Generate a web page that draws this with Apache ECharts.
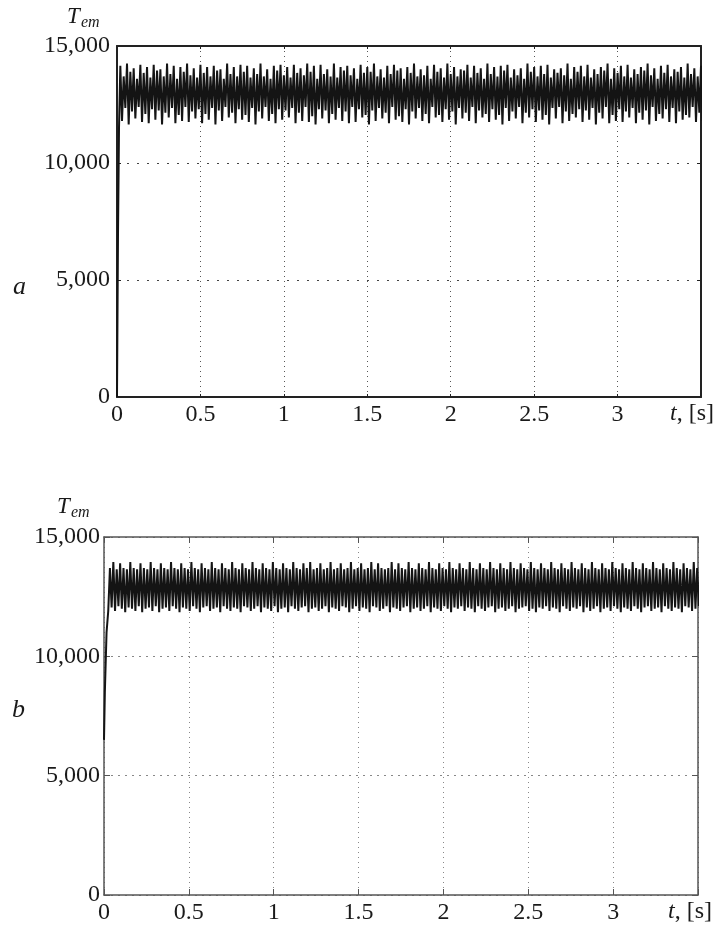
<!DOCTYPE html>
<html>
<head>
<meta charset="utf-8">
<title>Tem</title>
<script src="https://cdn.jsdelivr.net/npm/echarts@6/dist/echarts.min.js"></script>
<style>
html, body { margin: 0; padding: 0; background: #fff; }
#chart { width: 722px; height: 926px; }
</style>
</head>
<body>
<div id="chart"></div>
<script>
// axis ranges / ticks
var tMax = 3.5, tStep = 0.5;
var yMax = 15000, yStep = 5000;

// panel a: start-up part
var riseTimeA = [0, 0.006, 0.012];
var riseValA = [0, 7000, 11500];
// panel a: steady ripple, one sample every 0.01 s from 0.02 s
var startA = 0.02, sampleA = 0.01;
var rippleA = [
  14150, 11800, 13700, 12350, 14250, 11650, 13900, 12200, 14050, 11900,
  13600, 12400, 14200, 11750, 13850, 12100, 14100, 11700, 13650, 12300,
  14200, 11850, 13950, 12250, 14000, 11650, 13700, 12150, 14250, 11950,
  13800, 12350, 14150, 11700, 13600, 12050, 14100, 11800, 13900, 12400,
  14250, 11750, 13750, 12200, 14050, 11900, 13650, 12300, 14200, 11700,
  13850, 12100, 14100, 11850, 13700, 12350, 14150, 11650, 13950, 12250,
  14000, 11800, 13600, 12400, 14250, 11950, 13800, 12150, 14100, 11700,
  13700, 12300, 14200, 11850, 13900, 12050, 14150, 11750, 13650, 12350,
  14050, 11650, 13800, 12200, 14250, 11900, 13700, 12400, 14000, 11800,
  13600, 12100, 14150, 11700, 13950, 12300, 14200, 11850, 13750, 12250,
  14100, 11950, 13650, 12350, 14200, 11700, 13850, 12150, 14050, 11800,
  13750, 12400, 14250, 11750, 13900, 12000, 14150, 11650, 13600, 12300,
  14200, 11900, 13800, 12250, 14000, 11700, 13700, 12100, 14250, 11850,
  13650, 12350, 14100, 11800, 13950, 12200, 14150, 11700, 13750, 12400,
  14050, 11750, 13600, 12300, 14200, 11950, 13850, 12050, 14100, 11650,
  13900, 12250, 14250, 11800, 13700, 12350, 14000, 11900, 13650, 12150,
  14150, 11700, 13800, 12400, 14200, 11850, 13950, 12000, 14050, 11750,
  13600, 12300, 14100, 11650, 13850, 12200, 14250, 11900, 13700, 12350,
  14000, 11800, 13750, 12100, 14150, 11700, 13600, 12400, 14200, 11950,
  13900, 12050, 14050, 11750, 13650, 12300, 14250, 11850, 13800, 12200,
  14100, 11650, 13700, 12350, 14000, 11900, 13950, 12150, 14200, 11800,
  13650, 12400, 14150, 11700, 13850, 12250, 14050, 11950, 13600, 12100,
  14250, 11750, 13800, 12300, 14100, 11850, 13700, 12050, 14150, 11650,
  13950, 12350, 14200, 11800, 13650, 12200, 14000, 11900, 13750, 12400,
  14050, 11700, 13600, 12150, 14250, 11950, 13900, 12300, 14100, 11750,
  13700, 12250, 14150, 11850, 13800, 12050, 14200, 11650, 13650, 12350,
  14000, 11900, 13850, 12400, 14050, 11700, 13750, 12200, 14250, 11800,
  13600, 12100, 14100, 11950, 13900, 12300, 14150, 11750, 13700, 12250,
  14200, 11850, 13650, 12350, 14000, 11650, 13800, 12150, 14100, 11900,
  13950, 12400, 14250, 11700, 13600, 12050, 14050, 11800, 13850, 12300,
  14150, 11750, 13700, 12200, 14200, 11950, 13650, 12350, 14000, 11700,
  13800, 12150, 14100, 11850, 13950, 12250, 14250, 11650, 13750, 12400,
  14050, 11800, 13600, 12100, 14150, 11900, 13850, 12300, 14200, 11750,
  13700, 12350, 14000, 11700, 13900, 12200, 14100, 11850, 13650, 12050,
  14250, 11950, 13800, 12400, 14050, 11750, 13700, 12150, 14150, 11800
];

// panel b: start-up part
var riseTimeB = [0, 0.005, 0.015, 0.025];
var riseValB = [6500, 8500, 11000, 11900];
// panel b: steady ripple, one sample every 0.01 s from 0.035 s
var startB = 0.035, sampleB = 0.01;
var rippleB = [
  13700, 12050, 13950, 11900, 13650, 12100, 13900, 12000, 13700, 11850,
  13650, 12050, 13950, 12000, 13700, 11900, 13650, 12100, 13900, 11850,
  13700, 12000, 13650, 12050, 13950, 11900, 13700, 12100, 13650, 11850,
  13900, 12000, 13700, 12050, 13650, 11900, 13950, 12100, 13700, 12000,
  13650, 11850, 13900, 12050, 13700, 12000, 13650, 11900, 13950, 12100,
  13700, 12000, 13650, 11850, 13900, 12050, 13700, 12100, 13650, 11900,
  13950, 12000, 13700, 12050, 13650, 11850, 13900, 12100, 13700, 12000,
  13650, 11900, 13950, 12050, 13700, 12000, 13650, 11850, 13900, 12100,
  13700, 12050, 13650, 11900, 13950, 12000, 13700, 12100, 13650, 11850,
  13900, 12050, 13700, 12000, 13650, 11900, 13950, 12100, 13700, 11850,
  13650, 12000, 13900, 12050, 13700, 11850, 13650, 12100, 13950, 12000,
  13700, 11900, 13650, 12050, 13900, 12100, 13700, 11850, 13950, 12000,
  13650, 12050, 13700, 11900, 13900, 12000, 13650, 12100, 13700, 11850,
  13950, 12050, 13650, 12000, 13700, 11900, 13900, 12100, 13650, 12050,
  13700, 11850, 13950, 12000, 13650, 12100, 13700, 11900, 13900, 12050,
  13650, 12000, 13700, 11850, 13950, 12100, 13650, 12050, 13900, 11900,
  13700, 12000, 13650, 12100, 13700, 11850, 13950, 12050, 13650, 12000,
  13900, 11900, 13700, 12050, 13650, 12100, 13950, 11850, 13700, 12000,
  13650, 12050, 13900, 11900, 13700, 12000, 13650, 12100, 13950, 11850,
  13700, 12050, 13650, 12000, 13900, 11900, 13700, 12100, 13650, 12000,
  13950, 11850, 13700, 12050, 13650, 12000, 13900, 12100, 13700, 11900,
  13650, 12050, 13950, 12000, 13700, 11850, 13650, 12100, 13900, 12000,
  13700, 11900, 13650, 12050, 13950, 12100, 13700, 11850, 13650, 12000,
  13900, 12050, 13700, 11900, 13650, 12000, 13950, 12100, 13700, 11850,
  13650, 12000, 13900, 12050, 13700, 12100, 13650, 11900, 13950, 12000,
  13700, 11850, 13650, 12050, 13900, 12000, 13700, 12100, 13650, 11900,
  13950, 12050, 13700, 12000, 13650, 11850, 13900, 12100, 13700, 12000,
  13650, 11900, 13950, 12050, 13700, 12000, 13650, 12100, 13900, 11850,
  13700, 12050, 13650, 11900, 13950, 12000, 13700, 12100, 13650, 11850,
  13900, 12000, 13700, 12050, 13650, 11900, 13950, 12100, 13700, 12000,
  13650, 11850, 13900, 12050, 13700, 12000, 13650, 11900, 13950, 12100,
  13700, 12000, 13650, 11850, 13900, 12050, 13700, 12100, 13650, 11900,
  13950, 12000, 13700, 12050, 13650, 11850, 13900, 12100, 13700, 12000,
  13650, 11900, 13950, 12050, 13700, 12000, 13650, 11850, 13900, 12100,
  13700, 12050, 13650, 11900, 13950, 12000, 13700, 12100, 13650, 11850
];

var serif = '"Liberation Serif", "DejaVu Serif", serif';
var ink = '#1a1a1a';

function buildData(riseT, riseV, start, step, ripple) {
  var d = [];
  for (var i = 0; i < riseT.length; i++) d.push([riseT[i], riseV[i]]);
  for (var j = 0; j < ripple.length; j++) {
    d.push([Math.round((start + j * step) * 1000) / 1000, ripple[j]]);
  }
  return d;
}

function xAxes(gi, tickLen, lineCol, lineW, gridCol, gridDash) {
  return [{
    gridIndex: gi, type: 'value', min: 0, max: tMax, interval: tStep,
    axisLine: { show: true, onZero: false, lineStyle: { color: lineCol, width: lineW } },
    axisTick: { show: true, inside: true, length: tickLen, lineStyle: { color: lineCol } },
    axisLabel: {
      margin: 6, color: ink, fontFamily: serif, fontSize: 24,
      formatter: function (v) { return v > tMax - 0.01 ? '' : String(v); }
    },
    splitLine: { show: true, lineStyle: { color: gridCol, type: gridDash, width: 1 } }
  }, {
    gridIndex: gi, type: 'value', position: 'top', min: 0, max: tMax, interval: tStep,
    axisLine: { show: true, onZero: false, lineStyle: { color: lineCol, width: lineW } },
    axisTick: { show: true, inside: true, length: tickLen, lineStyle: { color: lineCol } },
    axisLabel: { show: false }, splitLine: { show: false }
  }];
}

function yAxes(gi, margin, tickLen, lineCol, lineW, gridCol, gridDash) {
  return [{
    gridIndex: gi, type: 'value', min: 0, max: yMax, interval: yStep,
    axisLine: { show: true, onZero: false, lineStyle: { color: lineCol, width: lineW } },
    axisTick: { show: true, inside: true, length: tickLen, lineStyle: { color: lineCol } },
    axisLabel: {
      margin: margin, color: ink, fontFamily: serif, fontSize: 24,
      formatter: function (v) { return v.toLocaleString('en-US'); }
    },
    splitLine: { show: true, lineStyle: { color: gridCol, type: gridDash, width: 1 } }
  }, {
    gridIndex: gi, type: 'value', position: 'right', min: 0, max: yMax, interval: yStep,
    axisLine: { show: true, onZero: false, lineStyle: { color: lineCol, width: lineW } },
    axisTick: { show: true, inside: true, length: tickLen, lineStyle: { color: lineCol } },
    axisLabel: { show: false }, splitLine: { show: false }
  }];
}

function titleTexts(tx, ty, letter, lx, ly, ux, uy) {
  return [
    { type: 'text', left: tx, top: ty, style: { text: 'T', fontFamily: serif, fontStyle: 'italic', fontSize: 23, fill: ink } },
    { type: 'text', left: tx + 14, top: ty + 10, style: { text: 'em', fontFamily: serif, fontStyle: 'italic', fontSize: 16, fill: ink } },
    { type: 'text', left: lx, top: ly, style: { text: letter, fontFamily: serif, fontStyle: 'italic', fontSize: 26, fill: ink } },
    { type: 'text', left: ux, top: uy, style: { text: '{i|t}, [s]', fontFamily: serif, fontSize: 24, fill: ink,
      rich: { i: { fontFamily: serif, fontStyle: 'italic', fontSize: 24, fill: ink } } } }
  ];
}

var chart = echarts.init(document.getElementById('chart'), null, { renderer: 'canvas' });

var xa = xAxes(0, 3, '#222', 2, '#555', [1, 4]);
var xb = xAxes(1, 6, '#555', 1.5, '#888', [1, 4]);
var ya = yAxes(0, 7, 4, '#222', 2, '#444', [2, 8]);
var yb = yAxes(1, 4, 6, '#555', 1.5, '#888', [2, 5]);

chart.setOption({
  backgroundColor: '#fff',
  animation: false,
  grid: [
    { left: 117, top: 46, width: 584, height: 351 },
    { left: 104, top: 537, width: 594, height: 358 }
  ],
  xAxis: xa.concat(xb),
  yAxis: ya.concat(yb),
  series: [{
    type: 'line', xAxisIndex: 0, yAxisIndex: 0, showSymbol: false, sampling: null,
    lineStyle: { color: '#141414', width: 2 },
    data: buildData(riseTimeA, riseValA, startA, sampleA, rippleA)
  }, {
    type: 'line', xAxisIndex: 2, yAxisIndex: 2, showSymbol: false, sampling: null,
    lineStyle: { color: '#141414', width: 2 },
    data: buildData(riseTimeB, riseValB, startB, sampleB, rippleB)
  }],
  graphic: titleTexts(67, 5, 'a', 13, 274, 670, 402)
    .concat(titleTexts(57, 495, 'b', 12, 697, 668, 900))
});
</script>
</body>
</html>
